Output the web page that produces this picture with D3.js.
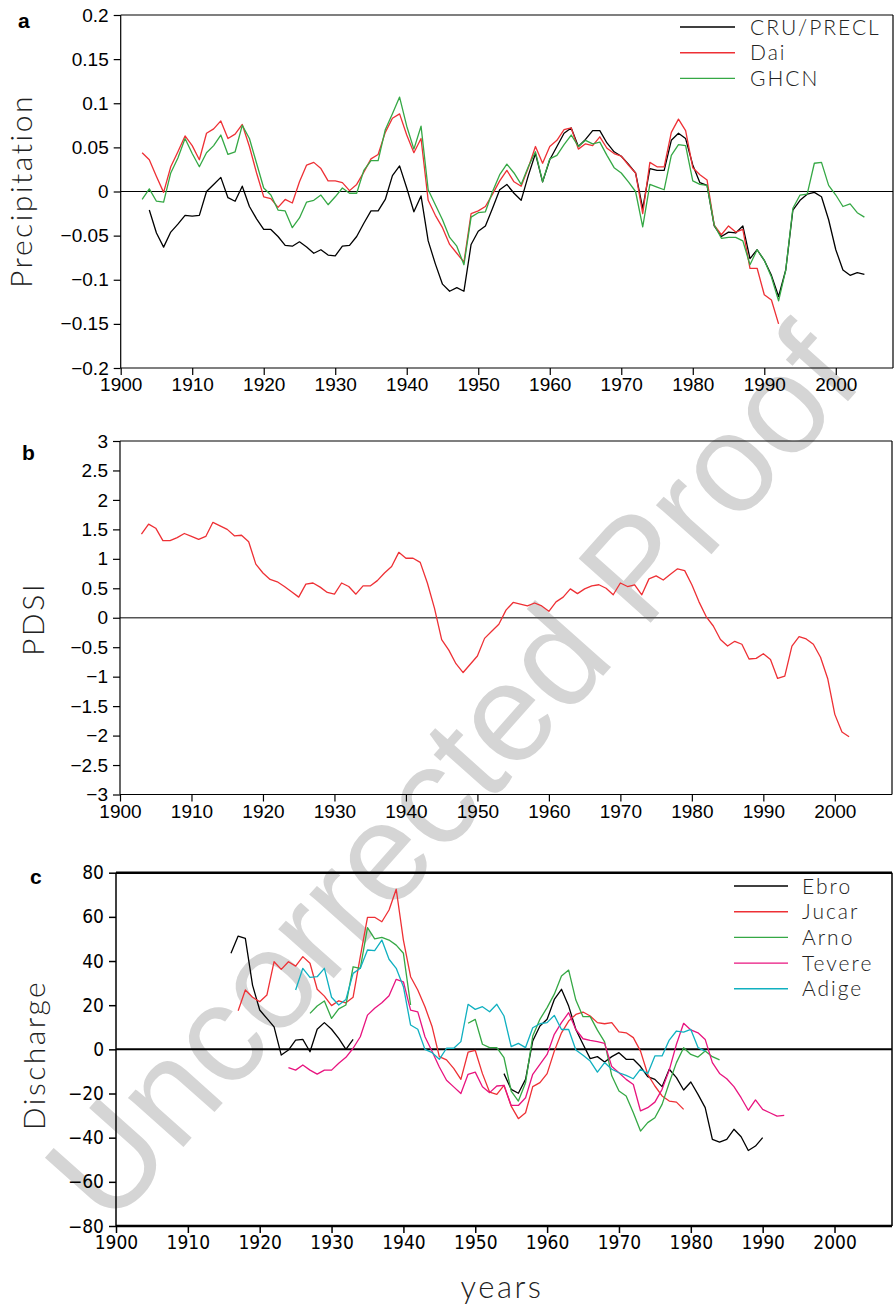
<!DOCTYPE html>
<html><head><meta charset="utf-8">
<script src="https://cdn.jsdelivr.net/npm/d3@7"></script>
<style>body{margin:0;background:#fff} svg{display:block}</style>
</head><body>
<svg id="chart" width="895" height="1307"></svg>
<script>
// ---------- DATA ----------
// Panel a: precipitation anomalies
const cruStart = 1904;
const cruValues = [-0.021,-0.047,-0.063,-0.046,-0.037,-0.027,-0.028,-0.027,0.000,0.008,0.016,-0.007,-0.011,0.006,-0.017,-0.031,-0.043,-0.043,-0.051,-0.061,-0.062,-0.057,-0.063,-0.070,-0.066,-0.072,-0.073,-0.062,-0.061,-0.051,-0.036,-0.022,-0.022,-0.009,0.018,0.029,0.004,-0.023,-0.005,-0.056,-0.082,-0.105,-0.113,-0.109,-0.113,-0.060,-0.045,-0.039,-0.019,0.002,0.008,-0.002,-0.010,0.018,0.043,0.011,0.036,0.051,0.066,0.072,0.051,0.059,0.069,0.069,0.055,0.045,0.040,0.031,0.021,-0.019,0.026,0.024,0.024,0.058,0.066,0.060,0.030,0.010,0.007,-0.039,-0.051,-0.046,-0.047,-0.039,-0.076,-0.066,-0.078,-0.095,-0.119,-0.089,-0.021,-0.010,-0.003,-0.001,-0.006,-0.032,-0.066,-0.089,-0.095,-0.092,-0.094];
const daiStart = 1903;
const daiValues = [0.044,0.036,0.017,-0.001,0.028,0.045,0.063,0.052,0.036,0.066,0.071,0.080,0.060,0.065,0.076,0.051,0.021,-0.006,-0.008,-0.018,-0.009,-0.013,0.011,0.030,0.033,0.026,0.012,0.012,0.010,0.001,0.008,0.022,0.037,0.042,0.067,0.083,0.088,0.064,0.044,0.060,-0.010,-0.027,-0.041,-0.060,-0.070,-0.080,-0.025,-0.022,-0.017,-0.003,0.012,0.024,0.011,0.006,0.027,0.051,0.032,0.051,0.058,0.070,0.072,0.048,0.054,0.052,0.062,0.049,0.043,0.040,0.030,0.021,-0.025,0.033,0.028,0.028,0.067,0.082,0.069,0.027,0.019,0.013,-0.038,-0.049,-0.039,-0.046,-0.043,-0.087,-0.087,-0.117,-0.123,-0.150];
const ghcnStart = 1903;
const ghcnValues = [-0.009,0.003,-0.011,-0.012,0.021,0.038,0.060,0.043,0.028,0.044,0.052,0.064,0.042,0.045,0.075,0.060,0.032,0.004,-0.004,-0.021,-0.022,-0.041,-0.030,-0.012,-0.010,-0.004,-0.015,-0.006,0.004,-0.002,-0.002,0.024,0.035,0.035,0.070,0.088,0.107,0.074,0.048,0.074,0.002,-0.015,-0.032,-0.052,-0.062,-0.083,-0.029,-0.024,-0.023,0.000,0.019,0.031,0.021,0.008,0.028,0.045,0.011,0.037,0.041,0.053,0.064,0.051,0.058,0.054,0.056,0.041,0.027,0.021,0.011,0.000,-0.040,0.008,0.005,0.002,0.041,0.053,0.052,0.012,0.008,0.007,-0.038,-0.053,-0.052,-0.052,-0.056,-0.083,-0.066,-0.078,-0.097,-0.124,-0.089,-0.019,-0.004,-0.003,0.032,0.033,0.007,-0.004,-0.017,-0.014,-0.024,-0.029];

// Panel b: PDSI
const pdsiStart = 1903;
const pdsiValues = [1.42,1.59,1.52,1.31,1.31,1.36,1.43,1.38,1.33,1.38,1.62,1.56,1.50,1.39,1.40,1.29,0.91,0.76,0.65,0.61,0.53,0.44,0.35,0.57,0.59,0.52,0.43,0.40,0.59,0.53,0.40,0.54,0.54,0.63,0.76,0.87,1.11,1.01,1.01,0.94,0.59,0.16,-0.37,-0.55,-0.78,-0.93,-0.79,-0.65,-0.35,-0.23,-0.11,0.13,0.26,0.23,0.20,0.25,0.20,0.11,0.27,0.35,0.49,0.41,0.49,0.54,0.56,0.50,0.39,0.59,0.53,0.56,0.39,0.66,0.71,0.64,0.74,0.83,0.80,0.56,0.27,0.02,-0.14,-0.37,-0.48,-0.40,-0.45,-0.70,-0.69,-0.61,-0.71,-1.03,-0.99,-0.48,-0.32,-0.36,-0.45,-0.67,-1.03,-1.64,-1.94,-2.02];

// Panel c: river discharge anomalies (segments separated by data gaps)
const ebro1Start = 1916;
const ebro1Values = [43.5,51.3,50.3,29.1,17.8,14,10.2,-2.6,-0.3,4.2,4.5,-1.1,9.1,12.1,9.1,5,0,4.5];
const ebro2Start = 1954;
const ebro2Values = [-11,-18.1,-19.9,-13.6,3.8,10.6,13.6,22.6,27.2,19.6,9,2.3,-4.2,-3.3,-5.7,-3.3,-1.5,-4.5,-4.5,-7.8,-12.4,-13.6,-16.9,-9,-12.8,-18.4,-14.8,-20.4,-26.4,-40.8,-42,-40.8,-36.2,-39.6,-45.8,-43.8,-40];
const jucarStart = 1917;
const jucarValues = [17.5,26.9,23.6,21.6,24.6,39.7,36.2,39.7,37.7,42,39,27.2,24.1,19.8,22,21.1,23.6,42,59.8,59.8,57.8,63.1,72.5,49.5,32.9,26.9,19.3,10.2,-3.3,-4.8,-8.6,-13.6,-1.3,-0.5,-11,-19.4,-20.4,-16.3,-25.7,-31.4,-28.7,-16.9,-15.1,-11,-0.8,7.5,12.8,15.8,16.9,15.1,12.1,11.6,12.1,7.9,7.5,5.3,-0.8,-11.3,-16.6,-21.1,-23.4,-23.9,-27.2];
const arno1Start = 1927;
const arno1Values = [16.3,19.6,21.9,14,18.3,20.1,37.4,36.7,55.1,50,50.7,49.5,47.2,43.5,20.1];
const arno2Start = 1949;
const arno2Values = [11.8,13.6,2.3,0.75,0.75,-3.8,-18.9,-23.4,-15.1,6,13.6,18.9,25,33.2,35.9,22.3,14.8,14.8,8.7,3.4,-12,-18.9,-21.1,-28.7,-37,-33.2,-31,-24.9,-15.1,-6,0.75,-2.3,-3.5,-0.75,-3.3,-4.8];
const tevereStart = 1924;
const tevereValues = [-8.3,-9.4,-7.1,-9.4,-11.2,-9.4,-9.4,-6.3,-3.6,0.5,5.7,15.5,18.6,21.1,24.3,31.7,30.6,17.8,17,5.7,-1,-8,-14,-17,-20,-11.3,-10.3,-16.9,-19.6,-16.6,-16.3,-25.4,-25.4,-21.9,-11.3,-6.8,-2.3,6.8,12.1,16.6,9,4.8,4.1,3.5,2.7,-7.8,-10.6,-13.6,-15.9,-27.9,-26.4,-23.9,-18.1,-9.4,2.3,11.8,8.8,7.5,4.5,-6,-10.9,-13.3,-16.9,-21.9,-27.6,-22.9,-27.2,-28.7,-30.2,-29.9];
const adigeStart = 1925;
const adigeValues = [26.9,36.7,32.6,32.9,36.7,23.6,20.1,22.6,34.4,36.7,45,44.7,49.5,40.8,36.7,28.4,11,9.1,0,-1.5,-4.5,0.5,0.5,3.5,20.4,18.1,19.3,17,20.4,15.1,1.2,2.7,0.8,9.8,11.6,12.1,15.4,9,9,-0.3,-2.7,-5.3,-10.3,-6,-9,-10.6,-11.8,-13.3,-9,-11,-3,-3,4.2,8.3,7.8,9,0.8,-0.8];

// Tick values and labels
const xTicks = [1900,1910,1920,1930,1940,1950,1960,1970,1980,1990,2000];
const yTicksA = [-0.2,-0.15,-0.1,-0.05,0,0.05,0.1,0.15,0.2];
const yTickLabelsA = ["\u22120.2","\u22120.15","\u22120.1","\u22120.05","0","0.05","0.1","0.15","0.2"];
const yTicksB = [-3,-2.5,-2,-1.5,-1,-0.5,0,0.5,1,1.5,2,2.5,3];
const yTickLabelsB = ["\u22123","\u22122.5","\u22122","\u22121.5","\u22121","\u22120.5","0","0.5","1","1.5","2","2.5","3"];
const yTicksC = [-80,-60,-40,-20,0,20,40,60,80];
const yTickLabelsC = ["\u221280","\u221260","\u221240","\u221220","0","20","40","60","80"];

const legendA = ["CRU/PRECL","Dai","GHCN"];
const legendC = ["Ebro","Jucar","Arno","Tevere","Adige"];

// ---------- DRAWING ----------
const svg = d3.select("#chart");
const C = {black:"#000000", red:"#ee3035", green:"#35a845", pink:"#e8147f", cyan:"#10b0c0"};
const thinFont = "Lato, 'Open Sans', 'DejaVu Sans', sans-serif";

// watermark (behind everything)
svg.append("text")
  .attr("transform","translate(450,772) rotate(-48.3)")
  .attr("text-anchor","middle").attr("dy","0.36em")
  .style("font-family","'Liberation Sans', Arial, sans-serif")
  .style("font-size","140px").style("fill","#d5d5d5")
  .text("Uncorrected Proof");

function toPts(start, vals){ return vals.map((v,i)=>({year:start+i, v:v})); }

function panel(cfg){
  const x = d3.scaleLinear().domain([1900,2008]).range([cfg.left,cfg.right]);
  const y = d3.scaleLinear().domain(cfg.ydom).range([cfg.bottom,cfg.top]);
  const g = svg.append("g");
  // zero line
  g.append("line").attr("x1",cfg.left).attr("x2",cfg.right)
    .attr("y1",y(0)).attr("y2",y(0))
    .attr("stroke",cfg.zeroColor).attr("stroke-width",cfg.zeroWidth);
  // series
  const line = d3.line().x(d=>x(d.year)).y(d=>y(d.v));
  cfg.series.forEach(s=>{
    g.append("path").datum(s.pts).attr("d",line)
      .attr("fill","none").attr("stroke",s.color).attr("stroke-width",1.3)
      .attr("stroke-linejoin","round");
  });
  // axes
  const ax = g.append("g").attr("transform",`translate(0,${cfg.bottom})`)
    .call(d3.axisBottom(x).tickValues(xTicks).tickSize(7).tickPadding(3).tickFormat(d3.format("d")));
  ax.select(".domain").remove();
  ax.selectAll("line").attr("stroke","#000").attr("stroke-width",cfg.tickWidth);
  ax.selectAll("text").style("font-family",cfg.tickFont).style("font-size",cfg.tickSize+"px").attr("fill","#000");
  const ay = g.append("g").attr("transform",`translate(${cfg.left},0)`)
    .call(d3.axisLeft(y).tickValues(cfg.yticks).tickSize(7).tickPadding(5).tickFormat((d,i)=>cfg.ylabels[i]));
  ay.select(".domain").remove();
  ay.selectAll("line").attr("stroke","#000").attr("stroke-width",cfg.tickWidth);
  ay.selectAll("text").style("font-family",cfg.tickFont).style("font-size",cfg.tickSize+"px").attr("fill","#000");
  // frame
  g.append("line").attr("x1",cfg.left).attr("x2",cfg.right).attr("y1",cfg.top).attr("y2",cfg.top).attr("stroke","#000").attr("stroke-width",cfg.hFrame);
  g.append("line").attr("x1",cfg.left).attr("x2",cfg.right).attr("y1",cfg.bottom).attr("y2",cfg.bottom).attr("stroke","#000").attr("stroke-width",cfg.hFrame);
  g.append("line").attr("x1",cfg.left).attr("x2",cfg.left).attr("y1",cfg.top).attr("y2",cfg.bottom).attr("stroke","#000").attr("stroke-width",cfg.vFrame);
  g.append("line").attr("x1",cfg.right).attr("x2",cfg.right).attr("y1",cfg.top).attr("y2",cfg.bottom).attr("stroke","#000").attr("stroke-width",cfg.vFrame);
  // y title
  g.append("text").attr("transform",`translate(${cfg.ytitleX},${cfg.ytitleY}) rotate(-90)`)
    .attr("text-anchor","middle")
    .style("font-family",thinFont).style("font-weight","300")
    .style("font-size","30px").style("letter-spacing","2.5px").attr("fill","#222")
    .text(cfg.ytitle);
  // panel letter
  g.append("text").attr("x",cfg.letterX).attr("y",cfg.letterY)
    .style("font-family","'Liberation Sans', Arial, sans-serif").style("font-weight","bold")
    .style("font-size","21px").text(cfg.letter);
  // legend
  if(cfg.legend){
    cfg.legend.names.forEach((n,i)=>{
      const ly = cfg.legend.y0 + i*cfg.legend.dy;
      g.append("line").attr("x1",cfg.legend.x0).attr("x2",cfg.legend.x1)
        .attr("y1",ly).attr("y2",ly).attr("stroke",cfg.legend.colors[i]).attr("stroke-width",1.4);
      g.append("text").attr("x",cfg.legend.tx).attr("y",ly).attr("dy","0.36em")
        .style("font-family",thinFont).style("font-weight","300")
        .style("font-size","21px").style("letter-spacing","2px").attr("fill","#222")
        .text(n);
    });
  }
  return {x,y};
}

panel({
  left:120.7, right:893, top:15, bottom:368, ydom:[-0.2,0.2],
  zeroColor:"#000", zeroWidth:1, hFrame:1.2, vFrame:1.2, tickWidth:1.2,
  tickFont:"'Liberation Sans', Arial, sans-serif", tickSize:19,
  yticks:yTicksA, ylabels:yTickLabelsA,
  ytitle:"Precipitation", ytitleX:32, ytitleY:191, letter:"a", letterX:18, letterY:28,
  series:[
    {pts:toPts(cruStart,cruValues), color:C.black},
    {pts:toPts(daiStart,daiValues), color:C.red},
    {pts:toPts(ghcnStart,ghcnValues), color:C.green}
  ],
  legend:{names:legendA, colors:[C.black,C.red,C.green], x0:680, x1:735, tx:750, y0:27, dy:25.7}
});

panel({
  left:120, right:892, top:441, bottom:794.5, ydom:[-3,3],
  zeroColor:"#555", zeroWidth:1.4, hFrame:1.2, vFrame:1.2, tickWidth:1.2,
  tickFont:"'Liberation Sans', Arial, sans-serif", tickSize:19,
  yticks:yTicksB, ylabels:yTickLabelsB,
  ytitle:"PDSI", ytitleX:44, ytitleY:619, letter:"b", letterX:22, letterY:460,
  series:[{pts:toPts(pdsiStart,pdsiValues), color:C.red}]
});

panel({
  left:116, right:892, top:872.7, bottom:1226, ydom:[-80,80],
  zeroColor:"#000", zeroWidth:2, hFrame:2.5, vFrame:1.5, tickWidth:1.5,
  tickFont:"'Liberation Sans Narrow', 'DejaVu Sans Condensed', sans-serif", tickSize:19,
  yticks:yTicksC, ylabels:yTickLabelsC,
  ytitle:"Discharge", ytitleX:45, ytitleY:1055, letter:"c", letterX:30, letterY:884,
  series:[
    {pts:toPts(ebro1Start,ebro1Values), color:C.black},
    {pts:toPts(ebro2Start,ebro2Values), color:C.black},
    {pts:toPts(jucarStart,jucarValues), color:C.red},
    {pts:toPts(arno1Start,arno1Values), color:C.green},
    {pts:toPts(arno2Start,arno2Values), color:C.green},
    {pts:toPts(tevereStart,tevereValues), color:C.pink},
    {pts:toPts(adigeStart,adigeValues), color:C.cyan}
  ],
  legend:{names:legendC, colors:[C.black,C.red,C.green,C.pink,C.cyan], x0:734, x1:788, tx:802, y0:886, dy:25.7}
});

// x title
svg.append("text").attr("x",502).attr("y",1298).attr("text-anchor","middle")
  .style("font-family",thinFont).style("font-weight","300")
  .style("font-size","31px").style("letter-spacing","2.5px").attr("fill","#222")
  .text("years");
</script></body></html>
